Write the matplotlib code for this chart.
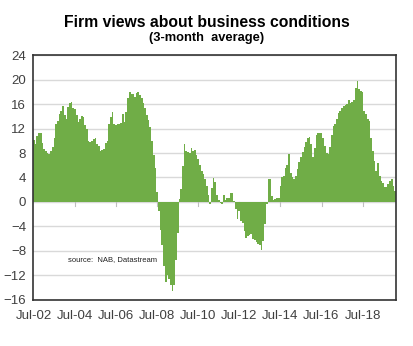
import numpy as np
import matplotlib
matplotlib.use("Agg")
import matplotlib.pyplot as plt

plt.rcParams['font.family'] = ['Liberation Sans', 'DejaVu Sans']

# monthly values, Jul-02 onwards (3-month average, net balance)
conditions = [
    10.2, 9.5, 10.8, 11.2, 11.3, 9.6, 8.7, 8.3, 8.0, 7.9, 8.4, 8.9,
    10.5, 12.8, 13.3, 14.4, 14.8, 15.6, 14.2, 13.6, 15.5, 16.1, 16.3, 15.4,
    15.2, 14.2, 13.1, 13.6, 14.0, 13.8, 12.6, 12.0, 10.0, 9.8, 9.9, 10.3,
    10.4, 9.4, 9.1, 8.3, 8.5, 8.6, 9.6, 9.9, 12.8, 13.9, 14.7, 12.8,
    12.5, 12.8, 12.7, 12.9, 14.3, 13.1, 14.7, 16.9, 17.9, 17.7, 17.6, 17.1,
    17.8, 17.9, 17.4, 16.9, 16.1, 15.3, 14.2, 13.4, 12.3, 9.9, 7.7, 5.6,
    1.6, -1.5, -4.5, -7.0, -10.5, -13.0, -12.0, -12.5, -13.5, -14.6, -13.5, -9.5,
    -5.0, 0.5, 2.2, 5.8, 9.4, 8.3, 8.1, 8.0, 8.8, 8.3, 8.5, 7.6,
    7.0, 6.1, 5.1, 4.5, 3.7, 2.6, 1.2, -0.3, 2.3, 3.9, 3.2, 1.2,
    0.3, -0.2, -0.3, 1.2, 0.4, 0.7, 0.7, 1.5, 1.5, 0.2, -1.2, -2.8,
    -1.5, -3.1, -3.5, -4.7, -5.8, -5.5, -5.4, -5.2, -6.0, -6.2, -6.5, -6.8,
    -7.0, -7.9, -6.3, -3.6, -0.4, 3.7, 3.7, 1.0, 0.4, 0.5, 0.7, 0.7,
    2.6, 4.0, 4.2, 5.5, 6.1, 7.8, 4.8, 4.0, 3.8, 4.2, 5.4, 6.5,
    7.3, 8.2, 9.0, 9.8, 10.5, 10.6, 9.4, 7.4, 8.8, 10.9, 11.2, 11.3,
    11.3, 10.5, 9.2, 8.0, 7.9, 9.0, 11.0, 12.4, 12.8, 13.5, 14.5, 14.8,
    15.3, 15.6, 15.8, 16.0, 16.7, 16.2, 16.4, 16.6, 18.6, 19.8, 18.5, 18.2,
    18.0, 14.8, 14.3, 13.6, 13.2, 10.5, 8.3, 6.7, 5.1, 6.4, 4.2, 3.4,
    3.1, 2.5, 2.4, 2.9, 3.4, 3.7, 2.6, 1.8,
]
tick_labels = ['Jul-02', 'Jul-04', 'Jul-06', 'Jul-08', 'Jul-10',
               'Jul-12', 'Jul-14', 'Jul-16', 'Jul-18']
y_ticks = [24, 20, 16, 12, 8, 4, 0, -4, -8, -12, -16]

months = np.arange(len(conditions))
tick_pos = np.arange(len(tick_labels)) * 24

fig = plt.figure(figsize=(4.14, 3.46), dpi=100)
ax = fig.add_axes([0.0797, 0.133, 0.8768, 0.708])

ax.bar(months, conditions, width=1.0, color='#70AD47', linewidth=0, zorder=2)

ax.set_xlim(-0.5, len(conditions) - 0.5)
ax.set_ylim(-16, 24)
ax.set_yticks(y_ticks)
ax.set_xticks(tick_pos)
ax.set_xticklabels(tick_labels)
ax.yaxis.grid(True, color='#d9d9d9', linewidth=1.0, zorder=0)
ax.set_axisbelow(True)
ax.tick_params(axis='both', length=0, labelsize=9.5, colors='#404040')
ax.tick_params(axis='x', pad=7)
ax.tick_params(axis='y', pad=5)
for s in ax.spines.values():
    s.set_color('#333333')
    s.set_linewidth(1.2)

# small category ticks on the zero line
for t in tick_pos[1:]:
    ax.plot([t, t], [0, -0.6], color='#bfbfbf', linewidth=0.8, zorder=1)

ax.text(0.096, 0.167, 'source:  NAB, Datastream', transform=ax.transAxes,
        fontsize=5.5, color='#222222', va='center')

fig.text(0.5, 0.935, 'Firm views about business conditions', ha='center',
         va='center', fontsize=11.3, fontweight='bold')
fig.text(0.5, 0.889, '(3-month  average)', ha='center', va='center',
         fontsize=9.3, fontweight='bold')

fig.savefig('out.png', dpi=100)
